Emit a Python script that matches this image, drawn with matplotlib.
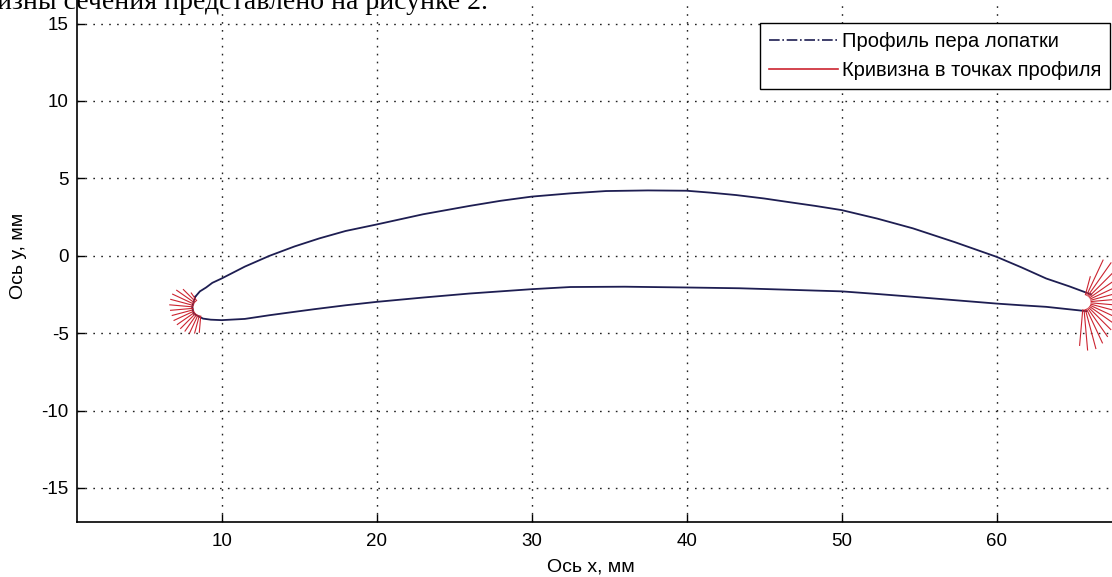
import numpy as np
import matplotlib.pyplot as plt
from matplotlib.lines import Line2D

plt.rcParams['font.family'] = ['Liberation Sans', 'DejaVu Sans']
plt.rcParams['axes.unicode_minus'] = False

# профиль пера лопатки (мм), обход: спинка от входной кромки к выходной
upper_x = [8.3, 8.6, 9.0, 9.4, 10.0, 11.5, 13.1, 14.7, 16.3, 18.0, 20.0, 23.0, 26.0,
           28.0, 30.0, 32.5, 34.8, 37.5, 40.0, 41.5, 43.2, 45.0, 46.7, 48.3, 50.0,
           52.3, 54.6, 57.3, 60.0, 61.6, 63.2, 64.7, 66.1]
upper_y = [-2.65, -2.3, -2.05, -1.75, -1.47, -0.7, 0.0, 0.6, 1.12, 1.6, 2.02, 2.68, 3.22,
           3.55, 3.82, 4.03, 4.18, 4.22, 4.2, 4.08, 3.92, 3.7, 3.45, 3.22, 2.95,
           2.4, 1.77, 0.88, -0.07, -0.75, -1.47, -1.98, -2.5]
# корыто от выходной кромки к входной
lower_x = [65.8, 64.5, 63.2, 61.6, 60.0, 57.3, 54.6, 52.3, 50.0, 48.3, 46.7, 43.4,
           40.0, 36.0, 32.5, 30.0, 28.0, 26.0, 23.0, 20.0, 18.0, 16.0, 14.5, 13.1,
           11.5, 10.0, 9.3, 8.8, 8.2, 8.1, 8.3]
lower_y = [-3.58, -3.44, -3.3, -3.2, -3.09, -2.87, -2.65, -2.47, -2.3, -2.25, -2.2, -2.1,
           -2.05, -2.0, -2.02, -2.16, -2.3, -2.44, -2.7, -2.98, -3.2, -3.45, -3.65, -3.84,
           -4.08, -4.16, -4.13, -4.06, -3.75, -3.3, -2.65]

# кривизна на кромках: центр, радиус, углы нормалей (град) и длины отрезков
le_center = (8.7, -3.35)
le_radius = 0.55
le_angles = [125, 135, 145, 155, 165, 175, 185, 195, 205, 215, 225, 235, 245, 255, 265]
le_lengths = [0.6, 1.1, 1.4, 1.5, 1.5, 1.5, 1.45, 1.4, 1.4, 1.35, 1.35, 1.3, 1.25, 1.15, 1.05]

te_center = (65.6, -3.0)
te_radius = 0.5
te_angles = [-95, -85, -75, -65, -55, -45, -35, -25, -15, -5, 5, 15, 25, 35, 45, 55, 65, 75]
te_lengths = [2.3, 2.6, 2.6, 2.4, 2.2, 2.0, 1.9, 1.8, 1.8, 1.8, 1.8, 1.9, 2.0, 2.2, 2.4, 2.6, 2.5, 1.2]

profile_color = '#1e1e52'
curv_color = '#cc2430'

fig = plt.figure(figsize=(11.12, 5.77), dpi=100)
ax = fig.add_axes([77 / 1112, 55 / 577, 1037.4 / 1112, 532.5 / 577])

ax.plot(upper_x, upper_y, color=profile_color, lw=1.3)
ax.plot(lower_x, lower_y, color=profile_color, lw=1.3)

# отрезки кривизны
for center, r, angles, lengths in [(le_center, le_radius, le_angles, le_lengths),
                                   (te_center, te_radius, te_angles, te_lengths)]:
    a = np.radians(angles)
    bx = center[0] + r * np.cos(a)
    by = center[1] + r * np.sin(a)
    tx = bx + np.array(lengths) * np.cos(a)
    ty = by + np.array(lengths) * np.sin(a)
    for i in range(len(a)):
        ax.plot([bx[i], tx[i]], [by[i], ty[i]], color=curv_color, lw=0.8)

ax.set_xlim(0.67, 67.6)
ax.set_ylim(-17.2, 17.2)
ax.set_xticks([10, 20, 30, 40, 50, 60])
ax.set_yticks([-15, -10, -5, 0, 5, 10, 15])
ax.tick_params(direction='in', length=6, width=1, labelsize=13.5, pad=6, colors='black')
ax.tick_params(axis='x', pad=8)
ax.grid(True, color='#222222', linestyle=(0, (1.2, 4.5)), linewidth=1.0)
for s in ax.spines.values():
    s.set_linewidth(1.2)

ax.set_xlabel('Ось x, мм', fontsize=14)
ax.xaxis.set_label_coords(0.495, -0.068)
ax.set_ylabel('Ось y, мм', fontsize=14)
ax.yaxis.set_label_coords(-0.048, 0.5)

handles = [Line2D([], [], color=profile_color, lw=1.2, linestyle='-.'),
           Line2D([], [], color=curv_color, lw=1.2)]
leg = ax.legend(handles, ['Профиль пера лопатки', 'Кривизна в точках профиля'],
                loc='upper right', bbox_to_anchor=(1110 / 1112, 1 - 23 / 577),
                bbox_transform=fig.transFigure, fontsize=14.5, fancybox=False,
                framealpha=1, edgecolor='black', handlelength=3.4,
                handletextpad=0.2, borderpad=0.45, labelspacing=0.5,
                borderaxespad=0)
leg.get_frame().set_linewidth(1.0)

fig.text(-0.003, 1 - 9 / 577, 'изны сечения представлено на рисунке 2.',
         family=['Liberation Serif', 'DejaVu Serif'], fontsize=20, va='baseline')

plt.savefig('out.png', dpi=100)
